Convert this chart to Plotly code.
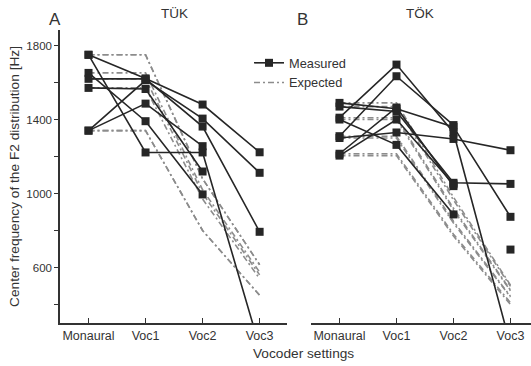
import plotly.graph_objects as go

settings = ["Monaural", "Voc1", "Voc2", "Voc3"]

# Panel A (TÜK): measured F2 centre frequencies per listener [Hz]
tuk_measured = [
    [1750, 1622, 1481, 1223],
    [1750, 1222, 1222, 170],
    [1340, 1612, 1405, 1112],
    [1340, 1486, 1256, None],
    [1652, 1391, 995, None],
    [1620, 1620, 1362, 793],
    [1571, 1565, 1119, None],
]
# Panel A expected values
tuk_expected = [
    [1750, 1750, 1080, 615],
    [1750, 1750, 1080, 615],
    [1340, 1340, 800, 450],
    [1340, 1340, 800, 450],
    [1652, 1652, 1020, 575],
    [1620, 1620, 1000, 560],
    [1571, 1571, 970, 540],
]

# Panel B (TÖK): measured
tok_measured = [
    [1490, 1458, 1360, 874],
    [1470, 1443, 1058, 1052],
    [1410, 1697, 1330, 180],
    [1400, 1263, 887, None],
    [1310, 1634, 1370, None],
    [1300, 1330, 1295, 1234],
    [1215, 1465, 1040, None],
    [1205, 1400, 1050, None],
]
tok_extra_voc3 = [697]
# Panel B expected
tok_expected = [
    [1490, 1490, 980, 505],
    [1470, 1470, 965, 498],
    [1410, 1410, 920, 478],
    [1400, 1400, 910, 474],
    [1310, 1310, 850, 444],
    [1300, 1300, 840, 440],
    [1215, 1215, 780, 410],
    [1205, 1205, 770, 400],
]

FONT = "Arial, Liberation Sans, sans-serif"
DARK = "#262626"
GREY = "#8c8c8c"
EXP_DASH = "6px,3px,2px,3px"

fig = go.Figure()

def add_panel(measured, expected, xa, ya, legend):
    for i, row in enumerate(expected):
        fig.add_trace(go.Scatter(
            x=settings, y=row, xaxis=xa, yaxis=ya, mode="lines",
            line=dict(color=GREY, width=1.6, dash=EXP_DASH),
            name="Expected", legendgroup="exp",
            showlegend=(legend and i == 0), legendrank=2))
    for i, row in enumerate(measured):
        fig.add_trace(go.Scatter(
            x=settings, y=row, xaxis=xa, yaxis=ya, mode="lines+markers",
            line=dict(color=DARK, width=1.6),
            marker=dict(symbol="square", size=8, color=DARK),
            name="Measured", legendgroup="meas",
            showlegend=(legend and i == 0), legendrank=1))

add_panel(tuk_measured, tuk_expected, "x", "y", True)
add_panel(tok_measured, tok_expected, "x2", "y2", False)
fig.add_trace(go.Scatter(
    x=["Voc3"] * len(tok_extra_voc3), y=tok_extra_voc3, xaxis="x2", yaxis="y2",
    mode="markers", marker=dict(symbol="square", size=8, color=DARK),
    showlegend=False))

W, H = 531, 366
ydom = [(H - 323) / H, (H - 30) / H]
yr = [300, 1884]

xtickfont = dict(family=FONT, size=12.5, color="#333")
ytickfont = dict(family=FONT, size=11.5, color="#333")
fig.update_layout(
    width=W, height=H, margin=dict(l=0, r=0, t=0, b=0),
    paper_bgcolor="white", plot_bgcolor="white",
    font=dict(family=FONT, size=12, color="#333"),
    xaxis=dict(domain=[60 / W, 287 / W], type="category",
               categoryorder="array", categoryarray=settings,
               range=[-0.5, 3.48], showline=True, linecolor="#333",
               linewidth=1.5, ticks="inside", ticklen=5, tickcolor="#333",
               tickwidth=1.2, showgrid=False, zeroline=False,
               tickfont=xtickfont),
    yaxis=dict(domain=ydom, range=yr, showline=True, linecolor="#333",
               linewidth=1.5, ticks="outside", ticklen=4, tickcolor="#333",
               tickwidth=1.2, tick0=200, dtick=400, showgrid=False,
               zeroline=False, tickfont=ytickfont,
               minor=dict(dtick=200, tick0=200, ticks="outside", ticklen=4,
                          tickcolor="#333", tickwidth=1.2, showgrid=False),
               title=dict(text="Center frequency of the F2 distribution [Hz]",
                          font=dict(family=FONT, size=13.7, color="#333"),
                          standoff=4)),
    xaxis2=dict(domain=[311 / W, 1.0], type="category",
                categoryorder="array", categoryarray=settings,
                range=[-0.5, 3.36], showline=True, linecolor="#333",
                linewidth=1.5, ticks="inside", ticklen=5, tickcolor="#333",
                tickwidth=1.2, showgrid=False, zeroline=False,
                tickfont=xtickfont),
    yaxis2=dict(domain=ydom, range=yr, matches="y", anchor="x2",
                showline=False, showticklabels=False, ticks="",
                showgrid=False, zeroline=False),
    legend=dict(x=249 / W, y=1 - 48 / H, xanchor="left", yanchor="top",
                bgcolor="rgba(0,0,0,0)", font=dict(family=FONT, size=12.8,
                                                   color="#333"),
                itemwidth=30, tracegroupgap=0),
    showlegend=True,
)

ann = [
    dict(text="A", x=55 / W, y=1 - 20 / H, font=dict(size=17)),
    dict(text="B", x=302 / W, y=1 - 20 / H, font=dict(size=17)),
    dict(text="TÜK", x=174 / W, y=1 - 13 / H, font=dict(size=13.5)),
    dict(text="TÖK", x=420 / W, y=1 - 13 / H, font=dict(size=13.5)),
    dict(text="Vocoder settings", x=303 / W, y=1 - 353 / H,
         font=dict(size=13.7)),
]
for a in ann:
    a["font"].update(family=FONT, color="#333")
    fig.add_annotation(xref="paper", yref="paper", showarrow=False,
                       xanchor="center", yanchor="middle", **a)

fig.write_html("out.html")
